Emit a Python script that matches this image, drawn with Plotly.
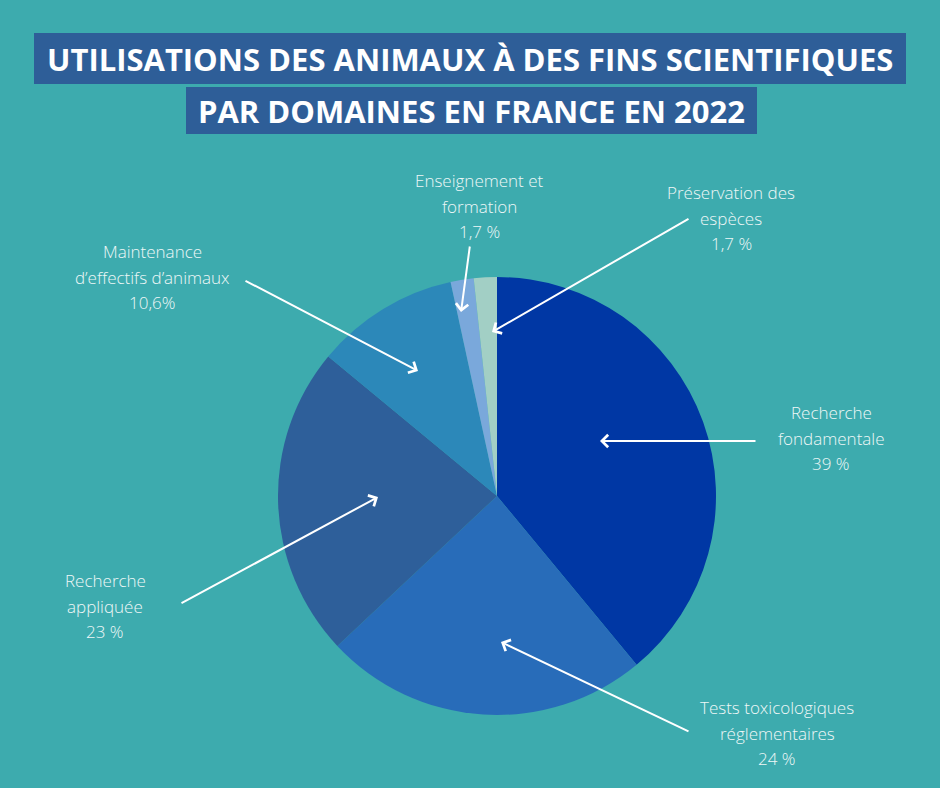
import plotly.graph_objects as go

# ---- data ----
categories = ["Recherche fondamentale", "Tests toxicologiques réglementaires",
              "Recherche appliquée", "Maintenance d’effectifs d’animaux",
              "Enseignement et formation", "Préservation des espèces"]
values = [39, 24, 23, 10.6, 1.7, 1.7]
slice_colors = ["#0037A4", "#286CB9", "#2E5F9A", "#2C88B9", "#7AA8DB", "#A2CFC5"]
label_texts = ["Recherche<br>fondamentale<br>39 %",
               "Tests toxicologiques<br>réglementaires<br>24 %",
               "Recherche<br>appliquée<br>23 %",
               "Maintenance<br>d’effectifs d’animaux<br>10,6%",
               "Enseignement et<br>formation<br>1,7 %",
               "Préservation des<br>espèces<br>1,7 %"]
title_lines = ["UTILISATIONS DES ANIMAUX À DES FINS SCIENTIFIQUES",
               "PAR DOMAINES EN FRANCE EN 2022"]

W, H = 940, 788
BG = "#3DABAE"
BOX = "#2E5E98"
TXT = "#EEF7F7"

# label layout (pixel coordinates): text center, arrow tail, arrow head
label_pos = [(831, 438), (777, 733), (105, 606), (152, 277), (479, 206), (731, 218)]
arrow_tail = [(757, 441), (690, 732), (180, 604), (244, 280), (470, 245), (690, 218)]
arrow_head = [(600, 441), (501, 642), (378, 497), (418, 371), (461, 312), (492, 332)]
LINE_GAP = 25.5

# pie geometry
cx, cy, r = 497, 496, 219

fig = go.Figure()
fig.add_trace(go.Pie(
    labels=categories, values=values, sort=False, direction="clockwise",
    rotation=0, textinfo="none", hoverinfo="label+percent",
    marker=dict(colors=slice_colors, line=dict(width=0)),
    showlegend=False,
    domain=dict(x=[(cx - r) / W, (cx + r) / W], y=[1 - (cy + r) / H, 1 - (cy - r) / H]),
))

shapes = [
    dict(type="rect", xref="x", yref="y", x0=34, x1=906, y0=33, y1=84,
         fillcolor=BOX, line=dict(width=0), layer="below"),
    dict(type="rect", xref="x", yref="y", x0=186, x1=757, y0=87, y1=134,
         fillcolor=BOX, line=dict(width=0), layer="below"),
]

annotations = [
    dict(x=470, y=59, xref="x", yref="y", text=title_lines[0], showarrow=False,
         font=dict(family="Open Sans", size=31, color="white", weight=700),
         xanchor="center", yanchor="middle"),
    dict(x=471.5, y=111, xref="x", yref="y", text=title_lines[1], showarrow=False,
         font=dict(family="Open Sans", size=31, color="white", weight=700),
         xanchor="center", yanchor="middle"),
]
for txt, (lx, ly) in zip(label_texts, label_pos):
    lines = txt.split("<br>")
    n = len(lines)
    for i, line in enumerate(lines):
        annotations.append(dict(x=lx, y=ly + (i - (n - 1) / 2) * LINE_GAP, xref="x", yref="y",
                                text=line, showarrow=False,
                                font=dict(family="Open Sans", size=17, color=TXT, weight=300),
                                xanchor="center", yanchor="middle", align="center"))
for (tx, ty), (hx, hy) in zip(arrow_tail, arrow_head):
    annotations.append(dict(x=hx, y=hy, xref="x", yref="y", ax=tx, ay=ty,
                            axref="x", ayref="y", text="", showarrow=True,
                            arrowhead=4, arrowsize=1.2, arrowwidth=2,
                            arrowcolor="white", standoff=0, startstandoff=0))

fig.update_layout(
    width=W, height=H, margin=dict(l=0, r=0, t=0, b=0),
    paper_bgcolor=BG, plot_bgcolor=BG,
    xaxis=dict(range=[0, W], visible=False, domain=[0, 1], fixedrange=True),
    yaxis=dict(range=[H, 0], visible=False, domain=[0, 1], fixedrange=True),
    shapes=shapes, annotations=annotations,
)

fig.write_html("out.html", config={"displayModeBar": False},
               post_script="document.body.style.margin='0';document.body.style.padding='0';")
